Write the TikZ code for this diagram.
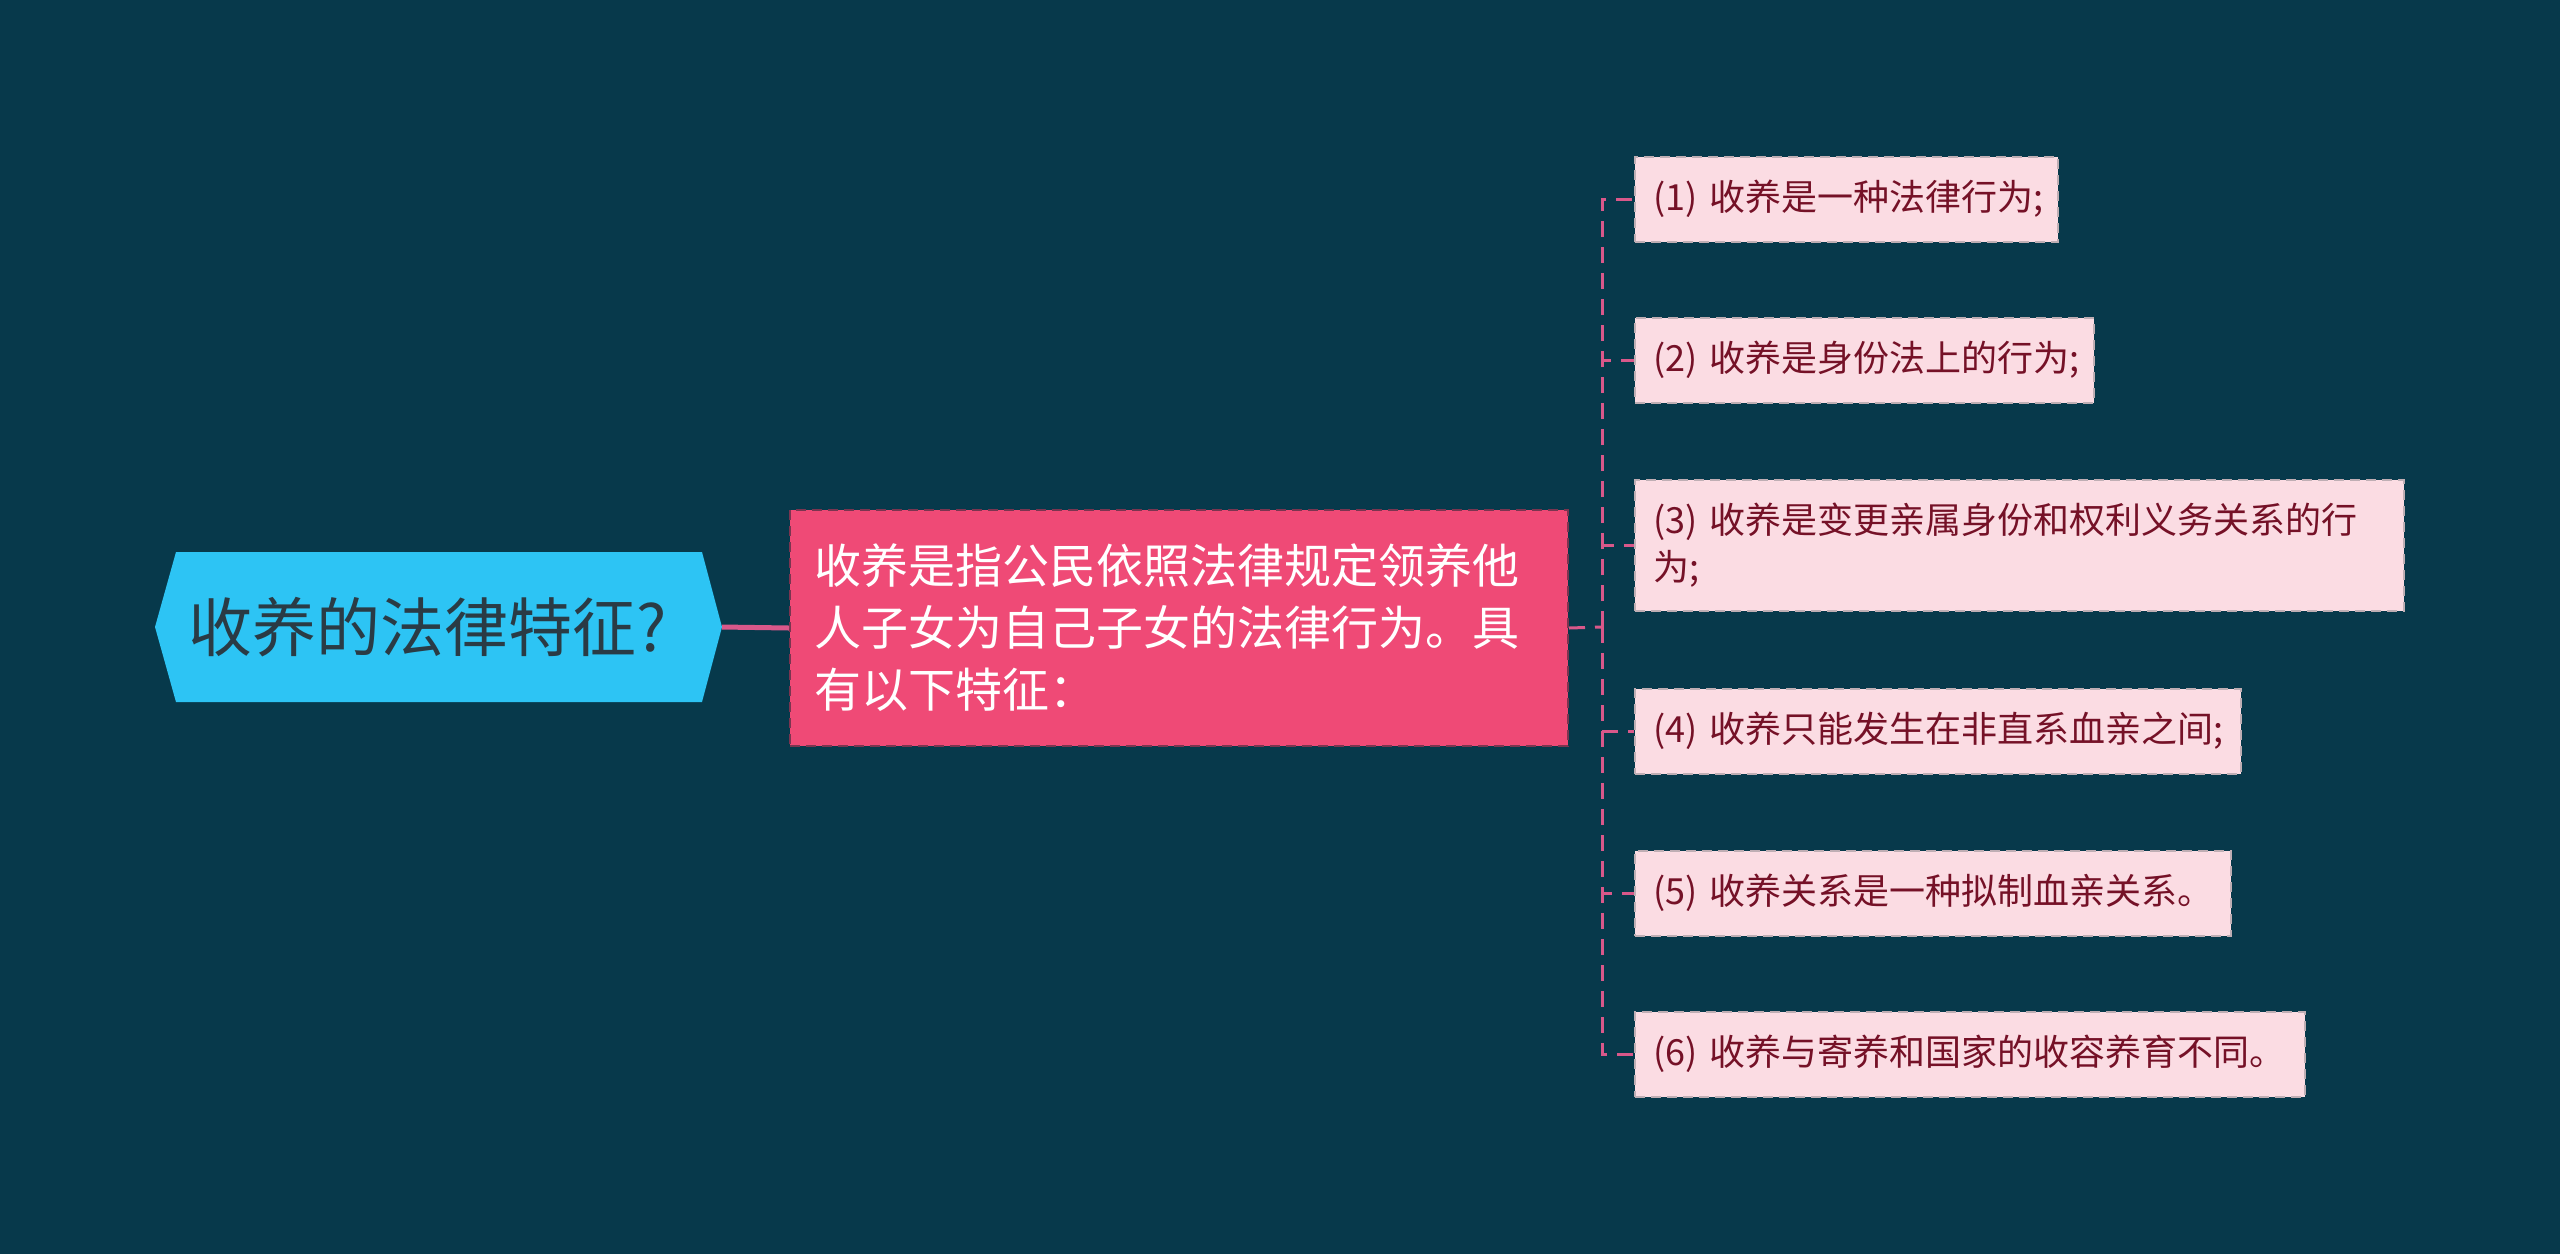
\documentclass[tikz,border=0pt]{standalone}
\usepackage{fontspec}
\setmainfont{Noto Sans CJK SC}
\definecolor{bg}{HTML}{07394B}
\definecolor{rootfill}{HTML}{2DC4F4}
\definecolor{roottxt}{HTML}{2A3B45}
\definecolor{midfill}{HTML}{EF4A76}
\definecolor{midline}{HTML}{7A3550}
\definecolor{leaffill}{HTML}{FBDCE3}
\definecolor{leafline}{HTML}{BFAEB4}
\definecolor{leaftxt}{HTML}{751127}
\definecolor{conn}{HTML}{D9588A}
\tikzset{
  rootlabel/.style={inner sep=0pt, text=roottxt, font=\fontsize{64}{76}\selectfont},
  midbox/.style={anchor=north west, fill=midfill, draw=midline, line width=2pt,
    dash pattern=on 10pt off 6pt, text=white, align=left, text width=730pt,
    inner xsep=24pt, inner ysep=10pt, minimum height=236pt,
    font=\fontsize{47}{62}\selectfont},
  leafbox/.style={anchor=west, fill=leaffill, draw=leafline, line width=2pt,
    dash pattern=on 10pt off 6pt, text=leaftxt, align=left,
    inner xsep=18pt, inner ysep=8pt, minimum height=85pt,
    font=\fontsize{36}{47}\selectfont},
  solidlink/.style={draw=conn, line width=5pt},
  dashlink/.style={draw=conn, line width=3pt, dash pattern=on 16pt off 10pt},
}
\begin{document}
\begin{tikzpicture}[x=1pt,y=-1pt]
\fill[bg] (0,0) rectangle (2560,1254);
\useasboundingbox (0,0) rectangle (2560,1254);
% root hexagon
\fill[rootfill] (155,627) -- (176,552) -- (702,552) -- (722,627) -- (702,702) -- (176,702) -- cycle;
\coordinate (rootR) at (722,627);
\node[rootlabel] (root) at (428,627) {收养的法律特征?};
% centre box
\node[midbox] (mid) at (789,509) {收养是指公民依照法律规定领养他\\人子女为自己子女的法律行为。具\\有以下特征：};
% leaves
\node[leafbox, text width=387pt] (l1) at (1634,199) {(1)~收养是一种法律行为;};
\node[leafbox, text width=423pt] (l2) at (1634,360) {(2)~收养是身份法上的行为;};
\node[leafbox, text width=733pt, minimum height=131pt] (l3) at (1634,545) {(3)~收养是变更亲属身份和权利义务关系的行\\为;};
\node[leafbox, text width=570pt] (l4) at (1634,731) {(4)~收养只能发生在非直系血亲之间;};
\node[leafbox, text width=560pt] (l5) at (1634,893) {(5)~收养关系是一种拟制血亲关系。};
\node[leafbox, text width=634pt] (l6) at (1634,1054) {(6)~收养与寄养和国家的收容养育不同。};
% connectors
\draw[solidlink] (rootR) -- (mid.west);
\coordinate (bus) at (1602,627);
\draw[dashlink] (mid.east) -- (bus);
\foreach \n in {l1,l2,l3,l4,l5,l6}{
  \draw[dashlink] (bus) |- (\n.west);
}
\end{tikzpicture}
\end{document}
